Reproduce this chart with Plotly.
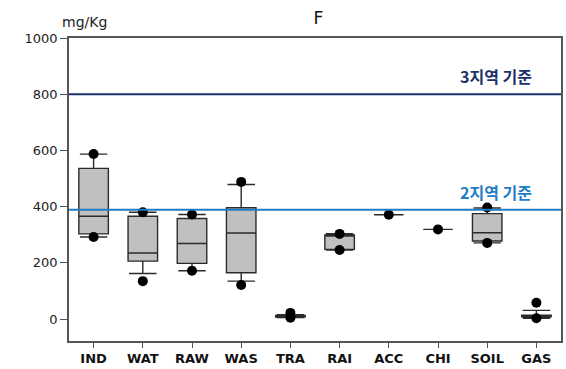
import plotly.graph_objects as go

categories = ["IND", "WAT", "RAW", "WAS", "TRA", "RAI", "ACC", "CHI", "SOIL", "GAS"]
lower_fence = [292, 162, 172, 135, 5, 246, 371, 319, 271, 3]
q1 = [303, 206, 198, 165, 7, 248, 371, 319, 278, 8]
median = [366, 235, 269, 306, 10, 298, 371, 319, 307, 11]
q3 = [536, 366, 358, 396, 13, 299, 371, 319, 375, 14]
upper_fence = [587, 380, 372, 479, 16, 304, 371, 319, 395, 31]

dot_x = ["IND", "IND", "WAT", "WAT", "RAW", "RAW", "WAS", "WAS", "TRA", "TRA",
         "RAI", "RAI", "ACC", "CHI", "SOIL", "SOIL", "GAS", "GAS"]
dot_y = [587, 292, 380, 135, 372, 172, 488, 121, 22, 5,
         303, 246, 371, 319, 397, 271, 58, 3]

limit_values = [800, 389]
limit_labels = ["3지역 기준", "2지역 기준"]
limit_colors = ["#1b2f6b", "#1f7cc7"]

fig = go.Figure()
fig.add_trace(go.Box(
    x=categories, q1=q1, median=median, q3=q3,
    lowerfence=lower_fence, upperfence=upper_fence,
    boxpoints=False, width=0.6, whiskerwidth=0.93,
    fillcolor="#c0c0c0", line=dict(color="#2b2b2b", width=1.4),
    showlegend=False,
))
fig.add_trace(go.Scatter(
    x=dot_x, y=dot_y, mode="markers",
    marker=dict(color="black", size=10, symbol="circle"),
    showlegend=False, hoverinfo="y",
))

for v, lab, col in zip(limit_values, limit_labels, limit_colors):
    fig.add_shape(type="line", xref="paper", x0=0, x1=1, yref="y", y0=v, y1=v,
                  line=dict(color=col, width=2))
    fig.add_annotation(text=lab, xref="paper", x=0.945, xanchor="right",
                       yref="y", y=v, yanchor="bottom", yshift=4, showarrow=False,
                       font=dict(family="Noto Sans CJK KR", size=16, color=col,
                                 weight="bold"))

fig.add_annotation(text="mg/Kg", xref="paper", x=0.032, xanchor="center",
                   yref="paper", y=1, yanchor="bottom", yshift=6, showarrow=False,
                   font=dict(family="DejaVu Sans", size=14, color="#222"))

fig.update_layout(
    width=566, height=369,
    margin=dict(l=69, r=3, t=38, b=25),
    paper_bgcolor="white", plot_bgcolor="white",
    title=dict(text="F", x=0.5625, xanchor="center", y=0.95, yanchor="middle",
               font=dict(family="DejaVu Sans", size=17, color="#111")),
    font=dict(family="DejaVu Sans", color="#222"),
)
fig.update_xaxes(
    type="category", range=[-0.5, 9.5], showgrid=False,
    showline=True, linecolor="#555", linewidth=1.5, mirror=True,
    ticks="outside", ticklen=5, tickcolor="#555",
    tickfont=dict(family="DejaVu Sans", size=13, color="#111", weight="bold"),
)
fig.update_yaxes(
    range=[-78, 1000], tickvals=[0, 200, 400, 600, 800, 1000], showgrid=False,
    zeroline=False, showline=True, linecolor="#555", linewidth=1.5, mirror=True,
    ticks="outside", ticklen=7, tickcolor="#555",
    tickfont=dict(family="DejaVu Sans", size=13, color="#222"),
)

fig.write_html("out.html", config={"displayModeBar": False},
               post_script="document.body.style.margin='0';")
